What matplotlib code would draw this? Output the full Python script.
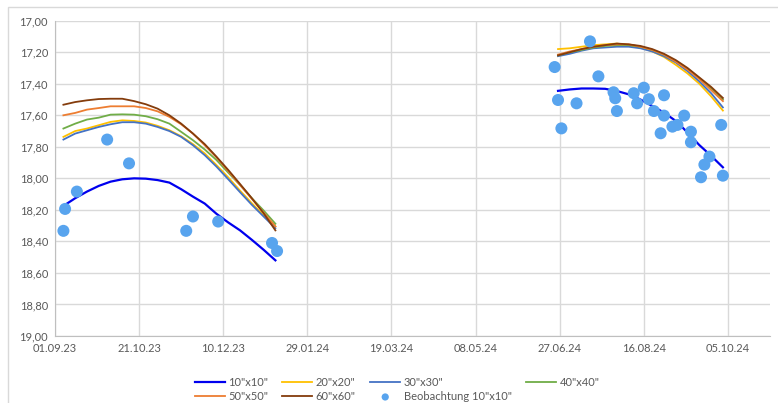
import numpy as np
import pandas as pd
import matplotlib
matplotlib.use("Agg")
from matplotlib import pyplot as plt
import matplotlib.dates as mdates
from matplotlib.patches import Rectangle
from matplotlib.ticker import FuncFormatter, MultipleLocator

plt.rcParams['font.family'] = ['Lato', 'DejaVu Sans']

# model dates (two observation periods)
dates_left = ['06.09.23', '13.09.23', '20.09.23', '27.09.23', '04.10.23', '11.10.23', '18.10.23',
              '25.10.23', '01.11.23', '08.11.23', '15.11.23', '22.11.23', '29.11.23', '06.12.23',
              '13.12.23', '20.12.23', '27.12.23', '03.01.24', '10.01.24']
dates_right = ['26.06.24', '03.07.24', '10.07.24', '17.07.24', '24.07.24', '31.07.24', '07.08.24',
               '14.08.24', '21.08.24', '28.08.24', '04.09.24', '11.09.24', '18.09.24', '25.09.24',
               '02.10.24']

# modelled values per grid size
m10_left = [18.175, 18.126, 18.084, 18.048, 18.021, 18.006, 18.000, 18.002, 18.011, 18.027,
            18.069, 18.116, 18.160, 18.225, 18.280, 18.330, 18.390, 18.453, 18.520]
m20_left = [17.737, 17.700, 17.684, 17.663, 17.642, 17.632, 17.636, 17.646, 17.667, 17.695,
            17.733, 17.783, 17.842, 17.916, 17.994, 18.078, 18.158, 18.234, 18.305]
m30_left = [17.754, 17.716, 17.695, 17.674, 17.657, 17.644, 17.644, 17.653, 17.674, 17.700,
            17.737, 17.790, 17.853, 17.926, 18.006, 18.088, 18.168, 18.242, 18.316]
m40_left = [17.684, 17.653, 17.627, 17.615, 17.596, 17.594, 17.596, 17.606, 17.625, 17.653,
            17.705, 17.758, 17.817, 17.884, 17.964, 18.042, 18.126, 18.204, 18.288]
m50_left = [17.600, 17.585, 17.564, 17.554, 17.543, 17.543, 17.543, 17.554, 17.575, 17.610,
            17.657, 17.716, 17.790, 17.867, 17.954, 18.042, 18.130, 18.217, 18.305]
m60_left = [17.533, 17.516, 17.505, 17.497, 17.495, 17.495, 17.510, 17.530, 17.558, 17.600,
            17.653, 17.716, 17.783, 17.863, 17.947, 18.036, 18.126, 18.221, 18.330]

m10_right = [17.445, 17.436, 17.430, 17.430, 17.432, 17.446, 17.467, 17.500, 17.541, 17.583,
             17.636, 17.709, 17.789, 17.857, 17.930]
m20_right = [17.180, 17.175, 17.165, 17.155, 17.150, 17.145, 17.155, 17.170, 17.195, 17.230,
             17.280, 17.335, 17.400, 17.480, 17.570]
m30_right = [17.225, 17.210, 17.190, 17.175, 17.170, 17.165, 17.165, 17.175, 17.195, 17.225,
             17.265, 17.320, 17.385, 17.460, 17.550]
m40_right = [17.220, 17.200, 17.185, 17.170, 17.160, 17.155, 17.155, 17.165, 17.185, 17.215,
             17.255, 17.305, 17.365, 17.430, 17.500]
m50_right = [17.215, 17.195, 17.180, 17.165, 17.155, 17.150, 17.150, 17.165, 17.185, 17.215,
             17.260, 17.310, 17.370, 17.440, 17.510]
m60_right = [17.220, 17.200, 17.180, 17.165, 17.155, 17.145, 17.150, 17.160, 17.180, 17.210,
             17.250, 17.300, 17.360, 17.420, 17.490]

# observations 10"x10"
obs_dates = ['06.09.23', '07.09.23', '14.09.23', '02.10.23', '15.10.23', '18.11.23', '22.11.23',
             '07.12.23', '08.01.24', '11.01.24',
             '24.06.24', '26.06.24', '28.06.24', '07.07.24', '15.07.24', '20.07.24', '29.07.24',
             '30.07.24', '31.07.24', '10.08.24', '12.08.24', '16.08.24', '19.08.24', '22.08.24',
             '26.08.24', '28.08.24', '28.08.24', '02.09.24', '05.09.24', '09.09.24', '13.09.24',
             '13.09.24', '21.09.24', '24.09.24', '19.09.24', '01.10.24', '02.10.24']
obs_values = [18.333, 18.194, 18.084, 17.754, 17.905, 18.333, 18.242, 18.274, 18.410, 18.461,
              17.294, 17.503, 17.683, 17.524, 17.131, 17.353, 17.454, 17.492, 17.573, 17.460,
              17.524, 17.425, 17.498, 17.573, 17.714, 17.473, 17.602, 17.672, 17.661, 17.602,
              17.704, 17.771, 17.913, 17.862, 17.993, 17.661, 17.983]

labels = ['10"x10"', '20"x20"', '30"x30"', '40"x40"', '50"x50"', '60"x60"']
colors = ['#0000ee', '#ffc000', '#4472c4', '#70ad47', '#ed7d31', '#843c0c']
lefts = [m10_left, m20_left, m30_left, m40_left, m50_left, m60_left]
rights = [m10_right, m20_right, m30_right, m40_right, m50_right, m60_right]


def to_dt(lst):
    return pd.to_datetime(lst, format='%d.%m.%y')


W, H = 778, 403
fig = plt.figure(figsize=(W / 100, H / 100), dpi=100)
fig.patches.append(Rectangle((8 / W, -0.1), 1.2, 1.1 - 7 / H, transform=fig.transFigure,
                             fill=False, edgecolor='#d9d9d9', linewidth=1.0))
ax = fig.add_axes([55 / W, 1 - 336 / H, (770 - 55) / W, (336 - 20.7) / H])

handles = []
for lab, col, l, r in zip(labels, colors, lefts, rights):
    lw = 1.6 if lab == '10"x10"' else 1.3
    h, = ax.plot(to_dt(dates_left), l, color=col, lw=lw, label=lab, zorder=3)
    ax.plot(to_dt(dates_right), r, color=col, lw=lw, zorder=3)
    handles.append(h)

sc = ax.scatter(to_dt(obs_dates), obs_values, s=75, color='#58a4ee', edgecolors='none',
                label='Beobachtung 10"x10"', zorder=4)
handles.append(sc)

start = pd.Timestamp('2023-09-01')
ax.set_xlim(start, start + pd.Timedelta(days=425))
ax.set_xticks([start + pd.Timedelta(days=50 * i) for i in range(9)])
ax.xaxis.set_major_formatter(mdates.DateFormatter('%d.%m.%y'))

ax.set_ylim(19.0, 17.0)
ax.yaxis.set_major_locator(MultipleLocator(0.2))
ax.yaxis.set_major_formatter(FuncFormatter(lambda v, p: f'{v:.2f}'.replace('.', ',')))

ax.grid(True, color='#d9d9d9', linewidth=1.0, zorder=0)
ax.set_axisbelow(True)
for s in ['top', 'right']:
    ax.spines[s].set_visible(False)
for s in ['left', 'bottom']:
    ax.spines[s].set_color('#bfbfbf')
ax.tick_params(axis='both', length=0, labelsize=8, labelcolor='#595959', pad=5)

# legend filled row by row like the original (4 columns)
order = [0, 4, 1, 5, 2, 6, 3]
leg_h = [handles[i] for i in order]
ax.legend(leg_h, [h.get_label() for h in leg_h], loc='upper center',
          bbox_to_anchor=(397 / W, 1 - 371 / H), bbox_transform=fig.transFigure,
          ncol=4, frameon=False, fontsize=8, handlelength=2.7, handletextpad=0.3,
          columnspacing=1.3, labelspacing=0.3, borderpad=0.0, labelcolor='#595959',
          markerscale=0.6)

fig.savefig('out.png', dpi=100)
